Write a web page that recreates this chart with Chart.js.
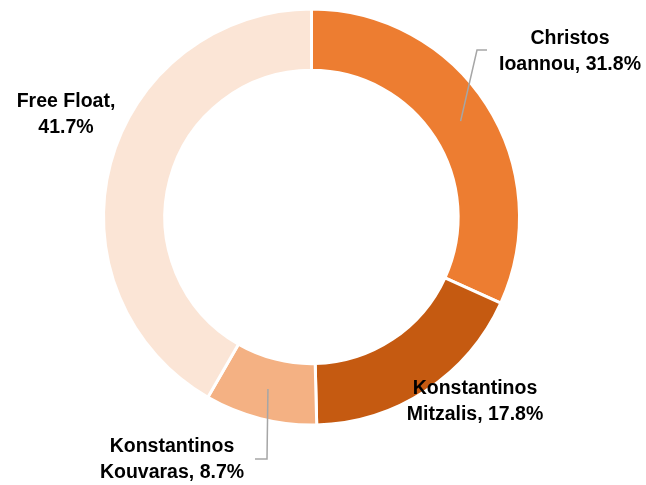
<!DOCTYPE html>
<html>
<head>
<meta charset="utf-8">
<script src="https://cdn.jsdelivr.net/npm/chart.js@4/dist/chart.umd.min.js"></script>
<style>
  html, body { margin: 0; padding: 0; background: #fff; }
  #wrap { width: 646px; height: 485px; }
</style>
</head>
<body>
<div id="wrap"><canvas id="holders"></canvas></div>
<script>
const holders = [['Christos', 'Ioannou'], ['Konstantinos', 'Mitzalis'], ['Konstantinos', 'Kouvaras'], ['Free Float']];
const stakes = [31.8, 17.8, 8.7, 41.7];
const sliceColors = ['#ED7D31', '#C55A11', '#F4B183', '#FBE5D6'];

// where each label sits, and an optional elbow for its leader line
const labelSpots = [
    { x: 570, y: 39, elbow: [477, 50, 487, 50] },
    { x: 475, y: 389 },
    { x: 172, y: 447, elbow: [267, 459, 255, 459] },
    { x: 66, y: 102 }
];

const sliceLabels = {
    id: 'sliceLabels',
    afterDatasetsDraw(chart) {
        const ctx = chart.ctx;
        const arcs = chart.getDatasetMeta(0).data;
        ctx.save();
        arcs.forEach((arc, i) => {
            const spot = labelSpots[i];
            if (spot.elbow) {
                const p = arc.getProps(['x', 'y', 'startAngle', 'endAngle', 'innerRadius', 'outerRadius'], true);
                const mid = (p.startAngle + p.endAngle) / 2;
                const r = (p.innerRadius + p.outerRadius) / 2;
                ctx.beginPath();
                ctx.moveTo(p.x + Math.cos(mid) * r, p.y + Math.sin(mid) * r);
                ctx.lineTo(spot.elbow[0], spot.elbow[1]);
                ctx.lineTo(spot.elbow[2], spot.elbow[3]);
                ctx.strokeStyle = '#A6A6A6';
                ctx.lineWidth = 1.5;
                ctx.stroke();
            }
            const pct = stakes[i].toFixed(1) + '%';
            let lines = holders[i].slice();
            if (lines.length === 1) lines = [lines[0] + ',', pct];
            else lines[lines.length - 1] += ', ' + pct;
            ctx.fillStyle = '#000';
            ctx.font = 'bold 19.5px "Liberation Sans", Arial, sans-serif';
            ctx.textAlign = 'center';
            ctx.textBaseline = 'middle';
            lines.forEach((t, k) => ctx.fillText(t, spot.x, spot.y + k * 25.5));
        });
        ctx.restore();
    }
};

new Chart(document.getElementById('holders'), {
    type: 'doughnut',
    data: {
        labels: holders.map(h => h.join(' ')),
        datasets: [{
            data: stakes,
            backgroundColor: sliceColors,
            borderColor: '#fff',
            borderWidth: 3
        }]
    },
    options: {
        responsive: true,
        maintainAspectRatio: false,
        animation: false,
        cutout: '70.5%',
        layout: { padding: { top: 7, bottom: 58, left: 102, right: 125 } },
        plugins: {
            legend: { display: false },
            tooltip: { enabled: false }
        }
    },
    plugins: [sliceLabels]
});
</script>
</body>
</html>
